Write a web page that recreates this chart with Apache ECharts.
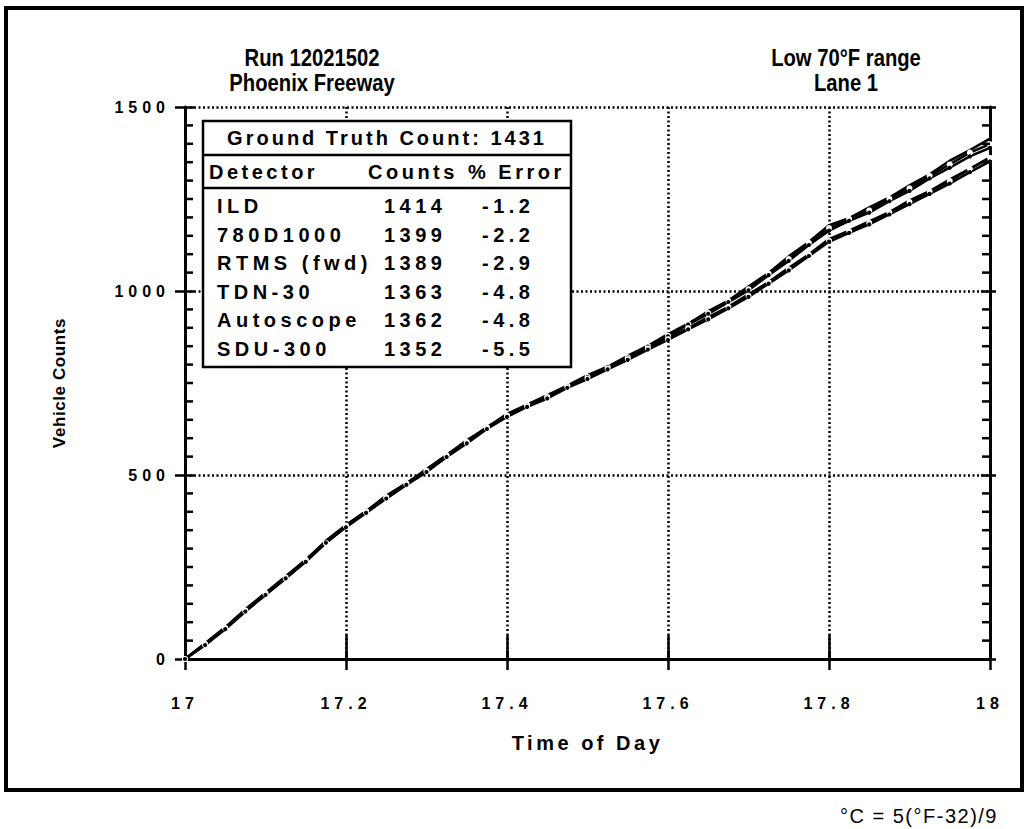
<!DOCTYPE html>
<html><head><meta charset="utf-8">
<script src="https://cdn.jsdelivr.net/npm/echarts@6/dist/echarts.min.js"></script>
<style>
html,body{margin:0;padding:0;background:#fff}
#c{width:1030px;height:829px}
text[style*="tickfont"]{letter-spacing:5px}
text[style*="namefontx"]{letter-spacing:3.5px}
text[style*="namefonty"]{letter-spacing:0.6px}
text[style*="tblhead"]{letter-spacing:3px}
text[style*="tblcols"]{letter-spacing:3.5px}
text[style*="tblfont"]{letter-spacing:4.5px}
text[style*="footfont"]{letter-spacing:1.5px}
</style></head><body><div id="c"></div>
<script>
// ---- data ----
const times = [17.000,17.025,17.050,17.075,17.100,17.125,17.150,17.175,17.200,17.225,17.250,17.275,17.300,17.325,17.350,17.375,17.400,17.425,17.450,17.475,17.500,17.525,17.550,17.575,17.600,17.625,17.650,17.675,17.700,17.725,17.750,17.775,17.800,17.825,17.850,17.875,17.900,17.925,17.950,17.975,18.000];
const ild = [0,43,86,135,179,225,269,321,364,401,444,477,516,554,594,629,666,691,717,743,771,794,824,851,883,911,945,974,1012,1049,1094,1133,1179,1198,1227,1254,1287,1317,1354,1383,1414];
const d780 = [0,41,84,132,180,222,270,316,363,402,440,478,512,554,590,630,662,691,713,743,767,794,820,851,879,911,940,973,1005,1047,1087,1131,1171,1196,1219,1251,1279,1313,1344,1376,1399];
const rtms = [0,39,86,130,177,220,268,319,360,400,438,476,510,552,588,628,660,689,712,742,766,793,819,849,877,909,938,970,1002,1043,1082,1125,1164,1191,1213,1244,1272,1306,1335,1366,1389];
const tdn = [0,40,83,133,177,223,267,318,361,399,441,475,513,551,591,627,663,687,713,739,766,789,819,844,873,899,929,957,991,1024,1063,1099,1141,1164,1189,1214,1246,1271,1303,1332,1363];
const autoscope = [0,38,84,130,176,219,267,315,361,398,437,475,509,550,587,627,659,687,709,739,762,789,815,844,869,899,925,957,987,1024,1059,1099,1137,1163,1185,1214,1242,1271,1299,1332,1362];
const sdu = [0,38,81,129,174,219,264,316,358,397,436,473,508,549,586,625,658,685,708,737,761,787,813,841,867,896,923,953,984,1020,1056,1095,1134,1158,1181,1208,1236,1264,1292,1323,1352];

const groundTruth = 1431;
const detectors = ['ILD','780D1000','RTMS (fwd)','TDN-30','Autoscope','SDU-300'];
const counts = [1414,1399,1389,1363,1362,1352];
const errors = ['-1.2','-2.2','-2.9','-4.8','-4.8','-5.5'];
const seriesValues = [ild, d780, rtms, tdn, autoscope, sdu];

// minor tick values on the vertical axes (every 50)
const minorTicks = [50,100,150,200,250,300,350,400,450,550,600,650,700,750,800,850,900,950,1050,1100,1150,1200,1250,1300,1350,1400,1450];

const titleLeft = ['Run 12021502','Phoenix Freeway'];
const titleRight = ['Low 70°F range','Lane 1'];
const footnote = '°C = 5(°F-32)/9';

// ---- styles ----
const TICKF = "'Liberation Sans', tickfont";
const symbols = ['none','emptyCircle','circle','none','emptyCircle','circle'];

const chart = echarts.init(document.getElementById('c'), null, {renderer:'svg'});

const series = detectors.map((name, k) => ({
  name, type:'line', xAxisIndex:0, yAxisIndex:0,
  data: times.map((t,i)=>[t, seriesValues[k][i]]),
  showSymbol: symbols[k] !== 'none', symbol: symbols[k], symbolSize: symbols[k]==='circle' ? 3 : 4,
  itemStyle:{color: symbols[k]==='circle' ? '#000' : '#fff', borderColor:'#000', borderWidth:1.2},
  lineStyle:{color:'#000', width:2.6},
  z: 3
}));

const tblX = 203, tblY = 121, tblW = 368, tblH = 246;
const graphics = [
  {id:'frame', type:'rect', shape:{x:6,y:8,width:1016,height:782}, style:{fill:'none',stroke:'#000',lineWidth:4}, z:50},
  {id:'tbl', type:'rect', shape:{x:tblX,y:tblY,width:tblW,height:tblH}, style:{fill:'#fff',stroke:'#000',lineWidth:2.5}, z:60},
  {id:'sep1', type:'line', shape:{x1:tblX,y1:155,x2:tblX+tblW,y2:155}, style:{stroke:'#000',lineWidth:2.5}, z:61},
  {id:'sep2', type:'line', shape:{x1:tblX,y1:188,x2:tblX+tblW,y2:188}, style:{stroke:'#000',lineWidth:2.5}, z:61},
  {id:'gt', type:'text', x:387, y:138, z:62, style:{text:'Ground Truth Count: '+groundTruth, fill:'#000', font:"bold 20px 'Liberation Sans', tblhead", align:'center', verticalAlign:'middle'}},
  {id:'h1', type:'text', x:209, y:172, z:62, style:{text:'Detector', fill:'#000', font:"bold 20px 'Liberation Sans', tblcols", align:'left', verticalAlign:'middle'}},
  {id:'h2', type:'text', x:368, y:172, z:62, style:{text:'Counts', fill:'#000', font:"bold 20px 'Liberation Sans', tblcols", align:'left', verticalAlign:'middle'}},
  {id:'h3', type:'text', x:468, y:172, z:62, style:{text:'% Error', fill:'#000', font:"bold 20px 'Liberation Sans', tblcols", align:'left', verticalAlign:'middle'}}
];
detectors.forEach((d,i)=>{
  const y = 206 + i*28.6;
  graphics.push({id:'d'+i, type:'text', x:217, y, z:62, style:{text:d, fill:'#000', font:"bold 20px 'Liberation Sans', tblfont", align:'left', verticalAlign:'middle'}});
  graphics.push({id:'c'+i, type:'text', x:384, y, z:62, style:{text:String(counts[i]), fill:'#000', font:"bold 20px 'Liberation Sans', tblfont", align:'left', verticalAlign:'middle'}});
  graphics.push({id:'e'+i, type:'text', x:482, y, z:62, style:{text:errors[i], fill:'#000', font:"bold 20px 'Liberation Sans', tblfont", align:'left', verticalAlign:'middle'}});
});
titleLeft.forEach((t,i)=>graphics.push({id:'tl'+i, type:'text', x:312, y:58+i*25, scaleX:0.88, z:62, style:{text:t, fill:'#000', font:"bold 23px 'Liberation Sans'", align:'center', verticalAlign:'middle'}}));
titleRight.forEach((t,i)=>graphics.push({id:'tr'+i, type:'text', x:846, y:58+i*25, scaleX:0.88, z:62, style:{text:t, fill:'#000', font:"bold 23px 'Liberation Sans'", align:'center', verticalAlign:'middle'}}));
graphics.push({id:'foot', type:'text', x:998, y:816, z:62, style:{text:footnote, fill:'#000', font:"20px 'Liberation Sans', footfont", align:'right', verticalAlign:'middle'}});

const G = {left:185, right:40, top:107, bottom:170, containLabel:false};
const tk = (len, w) => ({show:true, inside:false, length:len, lineStyle:{color:'#000', width:w || 2.5}});
const axLine = {show:true, lineStyle:{color:'#000', width:3}};
const off = {show:false};
const xA = (grid, pos, extra) => Object.assign({type:'value', min:17, max:18, interval:0.2, gridIndex:grid, position:pos,
  axisLine:off, axisTick:off, axisLabel:off, splitLine:off}, extra);
const yA = (grid, pos, interval, extra) => Object.assign({type:'value', min:0, max:1500, interval, gridIndex:grid, position:pos,
  axisLine:off, axisTick:off, axisLabel:off, splitLine:off}, extra);

chart.setOption({
  animation:false,
  backgroundColor:'#fff',
  grid:[G, G],
  xAxis:[
    xA(0, 'bottom', {axisLine:axLine, axisTick:tk(11),
      axisLabel:{show:true,color:'#000',fontWeight:'bold',fontSize:16,fontFamily:TICKF,margin:36},
      splitLine:{show:true,lineStyle:{color:'#000',width:2.5,type:[2,2.5]}},
      name:'Time of Day', nameLocation:'middle', nameGap:74,
      nameTextStyle:{color:'#000',fontWeight:'bold',fontSize:20,fontFamily:"'Liberation Sans', namefontx"}}),
    xA(0, 'top', {axisLine:axLine, axisTick:tk(8)}),
    xA(1, 'bottom', {offset:-12, axisTick:tk(12)}),
    xA(1, 'top', {offset:-12, axisTick:tk(12)})
  ],
  yAxis:[
    yA(0, 'left', 500, {axisLine:axLine, axisTick:tk(10),
      axisLabel:{show:true,color:'#000',fontWeight:'bold',fontSize:16,fontFamily:TICKF,margin:15,formatter:v=>String(v)},
      splitLine:{show:true,lineStyle:{color:'#000',width:2.5,type:[2,2.5]}},
      name:'Vehicle Counts', nameLocation:'middle', nameGap:117, nameRotate:90,
      nameTextStyle:{color:'#000',fontWeight:'bold',fontSize:17,fontFamily:"'Liberation Sans', namefonty"}}),
    yA(0, 'right', 500, {axisLine:axLine, axisTick:tk(6)}),
    yA(1, 'left', 500, {offset:-9, axisTick:tk(9)}),
    yA(1, 'right', 500, {offset:-9, axisTick:tk(9)})
  ],
  series,
  graphic: graphics
});

// minor ticks on the left/right frame, placed through the axis scale (convertToPixel)
const tickGraphics = [];
minorTicks.forEach((v, i) => {
  const pl = chart.convertToPixel({xAxisIndex:0, yAxisIndex:0}, [17, v]);
  const pr = chart.convertToPixel({xAxisIndex:0, yAxisIndex:0}, [18, v]);
  if (pl && pr) {
    tickGraphics.push({id:'ml'+i, type:'rect', z:70, shape:{x:pl[0], y:pl[1]-1.25, width:8, height:2.5}, style:{fill:'#000'}});
    tickGraphics.push({id:'mr'+i, type:'rect', z:70, shape:{x:pr[0]-8, y:pr[1]-1.25, width:8, height:2.5}, style:{fill:'#000'}});
  }
});
chart.setOption({graphic: graphics.concat(tickGraphics)});
</script></body></html>
